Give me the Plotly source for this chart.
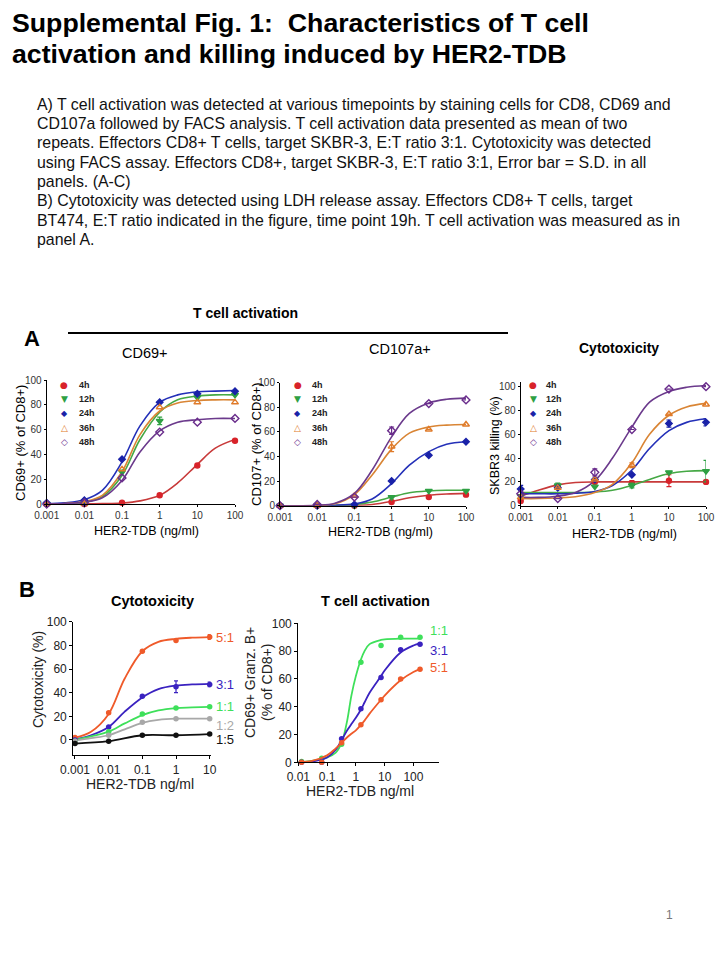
import math
import plotly.graph_objects as go

W, H = 720, 960
SANS = "Liberation Sans, Arial, sans-serif"

# ---------------- Data ----------------
series_a = ["4h", "12h", "24h", "36h", "48h"]
dose_a = [0.001, 0.01, 0.1, 1, 10, 100]
fit_dose_a = [0.001, 0.003, 0.01, 0.03, 0.1, 0.3, 1, 3, 10, 30, 100]
tick_a = [0.001, 0.01, 0.1, 1, 10, 100]
tick_a_text = ["0.001", "0.01", "0.1", "1", "10", "100"]

cd69_pts = {
    "4h": [0, 0, 1, 7, 31, 51],
    "12h": [0, 1, 26, 67, 86, 88],
    "24h": [1, 3, 36, 82, 89, 91],
    "36h": [0, 0, 28, 78, 82, 82],
    "48h": [0, 1, 21, 58, 66, 69],
}
cd69_err = {"12h": [None, None, None, 3, None, None]}
cd69_fit = {
    "4h": [0, 0, 0.1, 0.3, 0.8, 2.5, 7, 17, 32, 45, 52],
    "12h": [0, 0.3, 1.5, 6, 23, 52, 74, 84, 87, 88, 88],
    "24h": [0.3, 1, 3.5, 11, 34, 63, 82, 88, 90.5, 91, 91.5],
    "36h": [0, 0.4, 2, 7, 26, 56, 75, 81.5, 83.5, 84, 84],
    "48h": [0, 0.3, 1.5, 5, 19, 42, 59, 66, 68, 69, 69],
}

cd107_pts = {
    "4h": [0, 0, 0, 3, 7, 9],
    "12h": [0, 0, 0, 7, 12, 12],
    "24h": [0, 0, 1, 20, 41, 52],
    "36h": [0, 0, 8, 48, 62, 66],
    "48h": [0, 1, 7, 61, 83, 86],
}
cd107_err = {"36h": [None, None, None, 4, None, None],
             "48h": [None, None, None, 3, None, None]}
cd107_fit = {
    "4h": [0, 0, 0, 0, 0.3, 1, 3.5, 6.5, 8.5, 9.5, 10],
    "12h": [0, 0, 0, 0.2, 1, 3, 7, 10.5, 12, 12.5, 12.5],
    "24h": [0, 0, 0, 0.3, 1.5, 5.5, 18, 33, 44, 50, 52],
    "36h": [0, 0, 0.2, 1.5, 9, 25, 46, 59, 64, 65.5, 66],
    "48h": [0, 0, 0.3, 2, 10, 29, 56, 75, 83.5, 86.5, 87.5],
}

skbr3_pts = {
    "4h": [4, 16, 20, 19, 21, 20],
    "12h": [8, 17, 16, 17, 28, 29],
    "24h": [14, 15, 22, 26, 69, 70],
    "36h": [7, 15, 22, 34, 77, 85],
    "48h": [10, 6, 28, 64, 98, 100],
}
skbr3_err = {"4h": [None, None, None, 2, 5, None],
             "12h": [None, 2, None, 2, None, 9],
             "24h": [3, None, None, None, 3, 3],
             "36h": [None, None, None, 2, None, None],
             "48h": [None, None, 3, None, None, None]}
skbr3_fit = {
    "4h": [8, 13, 17.5, 19.5, 20, 20, 20, 20, 20, 20, 20],
    "12h": [11, 11, 11, 11, 11.5, 13, 17, 22, 27, 29, 29.5],
    "24h": [10, 10, 10, 10.5, 12, 17, 30, 48, 63, 70, 73],
    "36h": [6, 6, 6.5, 7.5, 11, 18, 36, 60, 76, 83, 86],
    "48h": [7, 7, 8, 11, 21, 40, 66, 87, 96, 99.5, 101],
}

ratios_b1 = ["5:1", "3:1", "1:1", "1:2", "1:5"]
dose_b1 = [0.001, 0.01, 0.1, 1, 10]
fit_dose_b1 = [0.001, 0.003, 0.01, 0.03, 0.1, 0.3, 1, 3, 10]
tick_b1 = [0.001, 0.01, 0.1, 1, 10]
tick_b1_text = ["0.001", "0.01", "0.1", "1", "10"]
cyto_pts = {
    "5:1": [2, 23, 75, 84, 87],
    "3:1": [0, 11, 37, 45, 47],
    "1:1": [-1, 7, 22, 27, 28],
    "1:2": [-1, 4, 15, 18, 18],
    "1:5": [-3, -1, 4, 4, 5],
}
cyto_err = {"5:1": [None, None, None, None, 2],
            "3:1": [None, None, None, 5, 2]}
cyto_fit = {
    "5:1": [2, 7, 22, 52, 75, 83, 85.5, 86.5, 87],
    "3:1": [0.5, 4, 11, 24, 36, 43, 46, 47, 47.5],
    "1:1": [0, 3, 7, 14, 21, 25, 27, 27.5, 28],
    "1:2": [-0.5, 1.5, 4, 9, 14.5, 17, 18, 18, 18],
}

ratios_b2 = ["1:1", "3:1", "5:1"]
dose_b2 = [0.013, 0.065, 0.32, 1.5, 7.5, 36, 170]
fit_dose_b2 = [0.01, 0.03, 0.1, 0.2, 0.32, 0.5, 0.7, 1, 1.5, 2, 3, 7.5, 10, 36, 100, 170]
tick_b2 = [0.01, 0.1, 1, 10, 100]
tick_b2_text = ["0.01", "0.1", "1", "10", "100"]
act_pts = {
    "1:1": [0.5, 3, 13, 72, 84, 90, 90],
    "3:1": [0, 0, 17, 38.5, 61, 81, 85],
    "5:1": [0, 0, 14, 27, 45, 60, 67],
}
act_fit = {
    "1:1": [0, 1, 3.5, 7, 14, 30, 48, 62, 74, 80, 85, 88, 88.5, 89, 89, 89],
    "3:1": [0, 0.5, 3.5, 9, 16, 23, 27.5, 32, 38, 43, 50, 62, 66, 79, 84, 85.5],
    "5:1": [0, 1, 5, 10, 14, 18, 20.5, 23, 27, 30, 35, 45, 48, 59, 65, 67],
}

# ---------------- Styles ----------------
a_color = {"4h": "#d8232a", "12h": "#2ea043", "24h": "#1a22a8", "36h": "#e07b2a", "48h": "#6a2d8c"}
a_line = {"4h": "#c83a3a", "12h": "#45a845", "24h": "#2430b8", "36h": "#d98535", "48h": "#6b3a8c"}
a_symbol = {"4h": "circle", "12h": "triangle-down", "24h": "diamond", "36h": "triangle-up-open", "48h": "diamond-open"}
a_size = {"4h": 5, "12h": 6, "24h": 5, "36h": 6, "48h": 6}
a_glyph = {"4h": "●", "12h": "▼", "24h": "◆", "36h": "△", "48h": "◇"}

b_color = {"5:1": "#ef5a2a", "3:1": "#3a22c0", "1:1": "#3ee05a", "1:2": "#a8a8a8", "1:5": "#111111"}


def px(x):
    return x / W


def py(y):
    return 1 - y / H


fig = go.Figure()

# axis geometry (pixels): x0, x1, ybottom, ytop
panels = {
    "A1": (46.7, 235.0, 504.0, 380.0),
    "A2": (280.0, 466.0, 505.7, 382.7),
    "A3": (520.7, 706.0, 505.7, 381.9),
    "B1": (73.3, 210.7, 755.0, 621.7),
    "B2": (298.3, 439.3, 762.3, 623.3),
}
axis_ranges = {
    "A1": ([-3, 2], [0, 100]),
    "A2": ([-3, 2], [0, 100]),
    "A3": ([-3, 2], [0, 104]),
    "B1": ([-3.05, 1.03], [-12.7, 100]),
    "B2": ([-2, 2.9], [0, 100]),
}
axis_ids = {"A1": ("x", "y"), "A2": ("x2", "y2"), "A3": ("x3", "y3"), "B1": ("x4", "y4"), "B2": ("x5", "y5")}


def add_a_panel(name, pts, fits, errs):
    xa, ya = axis_ids[name]
    for s in series_a:
        fig.add_trace(go.Scatter(
            x=fit_dose_a, y=fits[s], mode="lines", line=dict(color=a_line[s], width=1.6, shape="spline"),
            xaxis=xa, yaxis=ya, showlegend=False, cliponaxis=False, hoverinfo="skip"))
    for s in series_a:
        err = errs.get(s)
        fig.add_trace(go.Scatter(
            x=dose_a, y=pts[s], mode="markers",
            marker=dict(symbol=a_symbol[s], size=a_size[s], color=a_color[s],
                        line=dict(color=a_color[s], width=1.4)),
            error_y=dict(type="data", array=err, color=a_color[s], thickness=1.2, width=2.5) if err else None,
            xaxis=xa, yaxis=ya, showlegend=False, cliponaxis=False, name=s))


add_a_panel("A1", cd69_pts, cd69_fit, cd69_err)
add_a_panel("A2", cd107_pts, cd107_fit, cd107_err)
add_a_panel("A3", skbr3_pts, skbr3_fit, skbr3_err)

# B1
for r in ratios_b1:
    if r in cyto_fit:
        fig.add_trace(go.Scatter(x=fit_dose_b1, y=cyto_fit[r], mode="lines",
                                 line=dict(color=b_color[r], width=1.8, shape="spline"),
                                 xaxis="x4", yaxis="y4", showlegend=False, cliponaxis=False, hoverinfo="skip"))
for r in ratios_b1:
    err = cyto_err.get(r)
    fig.add_trace(go.Scatter(x=dose_b1, y=cyto_pts[r],
                             mode="markers" if r in cyto_fit else "lines+markers",
                             line=dict(color=b_color[r], width=1.8, shape="spline"),
                             marker=dict(color=b_color[r], size=5.5),
                             error_y=dict(type="data", array=err, color=b_color[r], thickness=1.2, width=2) if err else None,
                             xaxis="x4", yaxis="y4", showlegend=False, cliponaxis=False, name=r))

# B2
for r in ratios_b2:
    fig.add_trace(go.Scatter(x=fit_dose_b2, y=act_fit[r], mode="lines",
                             line=dict(color=b_color[r], width=1.8, shape="spline"),
                             xaxis="x5", yaxis="y5", showlegend=False, cliponaxis=False, hoverinfo="skip"))
    fig.add_trace(go.Scatter(x=dose_b2, y=act_pts[r], mode="markers",
                             marker=dict(color=b_color[r], size=5.5),
                             xaxis="x5", yaxis="y5", showlegend=False, cliponaxis=False, name=r))

# ---------------- Axes ----------------
layout_axes = {}
for i, name in enumerate(["A1", "A2", "A3", "B1", "B2"]):
    x0, x1, yb, yt = panels[name]
    xr, yr = axis_ranges[name]
    isA = name.startswith("A")
    suffix = "" if i == 0 else str(i + 1)
    if isA:
        xt, xtt = tick_a, tick_a_text
    elif name == "B1":
        xt, xtt = tick_b1, tick_b1_text
    else:
        xt, xtt = tick_b2, tick_b2_text
    tf = dict(family=SANS, size=10 if isA else 12, color="#333333" if isA else "#222222")
    common = dict(showline=True, linecolor="black", linewidth=1 if isA else 1.3, ticks="outside",
                  ticklen=2 if isA else 3, tickwidth=1, tickcolor="black", showgrid=False, zeroline=False,
                  tickfont=tf, fixedrange=True, automargin=False)
    layout_axes["xaxis" + suffix] = dict(type="log", range=xr, domain=[px(x0), px(x1)],
                                         anchor="y" + suffix, tickvals=xt, ticktext=xtt, **common)
    yt_vals = [0, 20, 40, 60, 80, 100]
    layout_axes["yaxis" + suffix] = dict(range=yr, domain=[py(yb), py(yt)], anchor="x" + suffix,
                                         tickvals=yt_vals, ticktext=[str(v) for v in yt_vals], **common)

fig.update_layout(**layout_axes)

# ---------------- Text ----------------
anns = []


def ann(text, x, y, size, bold=False, color="black", xanchor="center", yanchor="middle", angle=0, family=SANS):
    if bold:
        text = "<b>" + text + "</b>"
    anns.append(dict(text=text, x=px(x), y=py(y), xref="paper", yref="paper", showarrow=False,
                     xanchor=xanchor, yanchor=yanchor, textangle=angle,
                     font=dict(family=family, size=size, color=color)))


# Title
ann("Supplemental Fig. 1:  Characteristics of T cell", 10, 23, 26.7, bold=True, xanchor="left")
ann("activation and killing induced by HER2-TDB", 10, 54, 26.7, bold=True, xanchor="left")

para = [
    "A) T cell activation was detected at various timepoints by staining cells for CD8, CD69 and",
    "CD107a followed by FACS analysis. T cell activation data presented as mean of two",
    "repeats. Effectors CD8+ T cells, target SKBR-3, E:T ratio 3:1. Cytotoxicity was detected",
    "using FACS assay. Effectors CD8+, target SKBR-3, E:T ratio 3:1, Error bar = S.D. in all",
    "panels. (A-C)",
    "B) Cytotoxicity was detected using LDH release assay. Effectors CD8+ T cells, target",
    "BT474, E:T ratio indicated in the figure, time point 19h. T cell activation was measured as in",
    "panel A.",
]
for i, line in enumerate(para):
    ann(line, 35, 104 + i * 19.4, 15.9, xanchor="left", color="#111111")

# Section A header
ann("T cell activation", 245, 313, 14, bold=True)
ann("A", 32, 338, 22, bold=True)
ann("CD69+", 145, 353, 14.5)
ann("CD107a+", 400, 349, 14.5)
ann("Cytotoxicity", 619, 348, 14, bold=True)

# A legends
legend_pos = {"A1": (64, 77), "A2": (297.7, 310), "A3": (533.3, 544.3)}
leg_rows = [385, 399.3, 413.3, 427.6, 441.7]
for name, (sx, tx) in legend_pos.items():
    for s, yy in zip(series_a, leg_rows):
        ann(a_glyph[s], sx, yy, 9 if s != "24h" else 8, color=a_color[s], family="DejaVu Sans")
        ann(s, tx, yy, 9, bold=True, xanchor="left", color="#222222")

# A axis titles
ann("CD69+ (% of CD8+)", 20, 443, 13, angle=-90)
ann("CD107+ (% of CD8+)", 256, 444, 13, angle=-90)
ann("SKBR3 killing (%)", 495, 446, 12.5, angle=-90)
ann("HER2-TDB (ng/ml)", 146, 530.5, 12.5)
ann("HER2-TDB (ng/ml)", 380, 532, 12.5)
ann("HER2-TDB (ng/ml)", 624, 534, 12.5)

# Section B
ann("B", 27, 589, 22, bold=True)
ann("Cytotoxicity", 152, 601, 14.5, bold=True)
ann("T cell activation", 375, 601, 14.5, bold=True)
ann("Cytotoxicity (%)", 38, 680, 14, angle=-90, color="#222222")
ann("HER2-TDB ng/ml", 140, 784, 14, color="#222222")
ann("CD69+ Granz. B+", 250, 683, 14, angle=-90, color="#222222")
ann("(% of CD8+)", 267, 683, 14, angle=-90, color="#222222")
ann("HER2-TDB ng/ml", 360, 791, 14, color="#222222")

# B end labels (anchored at each series' last point)
b1_label_shift = {"5:1": 0, "3:1": 0, "1:1": 0, "1:2": -6, "1:5": -5}
for r in ratios_b1:
    anns.append(dict(text=r, x=math.log10(dose_b1[-1]), y=cyto_pts[r][-1] + b1_label_shift[r],
                     xref="x4", yref="y4", showarrow=False, xanchor="left", yanchor="middle", xshift=4,
                     font=dict(family=SANS, size=13, color=b_color[r])))
b2_label_shift = {"1:1": 5, "3:1": -4.5, "5:1": 1}
for r in ratios_b2:
    anns.append(dict(text=r, x=math.log10(dose_b2[-1]), y=act_pts[r][-1] + b2_label_shift[r],
                     xref="x5", yref="y5", showarrow=False, xanchor="left", yanchor="middle", xshift=8,
                     font=dict(family=SANS, size=13, color=b_color[r])))

# page number
ann("1", 669, 915, 12, color="#777777")

fig.update_layout(
    width=W, height=H, autosize=False,
    margin=dict(l=0, r=0, t=0, b=0, pad=0, autoexpand=False),
    paper_bgcolor="white", plot_bgcolor="white", showlegend=False,
    annotations=anns,
    shapes=[dict(type="line", xref="paper", yref="paper", x0=px(68), x1=px(508), y0=py(333), y1=py(333),
                 line=dict(color="black", width=2.2))],
)

fig.write_html("out.html", config={"displayModeBar": False},
               post_script="document.body.style.margin='0';document.body.style.overflow='hidden';")
